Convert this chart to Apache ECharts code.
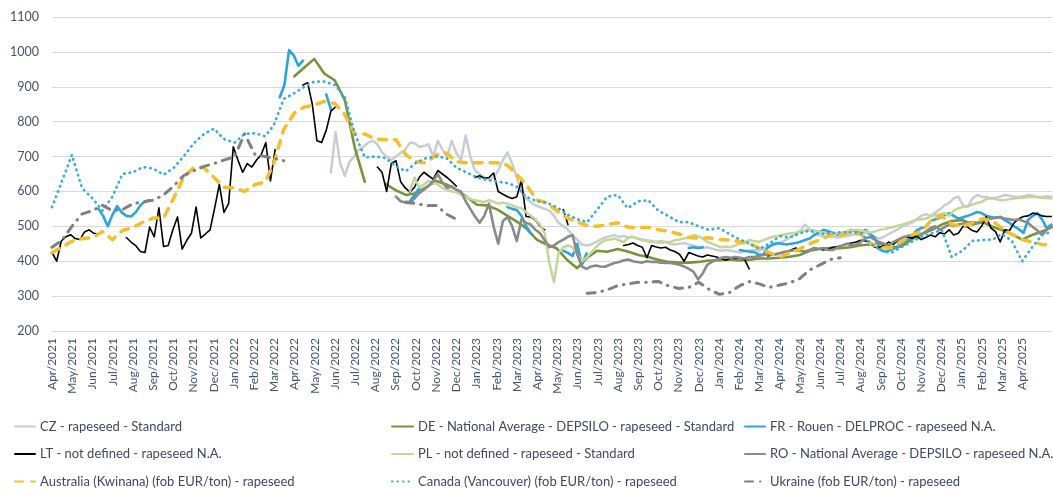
<!DOCTYPE html>
<html>
<head>
<meta charset="utf-8">
<title>Rapeseed prices</title>
<script src="https://cdn.jsdelivr.net/npm/echarts@6/dist/echarts.min.js"></script>
<style>
  html, body { margin: 0; padding: 0; background: #ffffff; }
  #chart { width: 1053px; height: 494px; }
</style>
</head>
<body>
<div id="chart"></div>
<script>
// ---- axis labels -------------------------------------------------------
const monthLabels = [
  'Apr/2021','May/2021','Jun/2021','Jul/2021','Aug/2021','Sep/2021','Oct/2021','Nov/2021','Dec/2021',
  'Jan/2022','Feb/2022','Mar/2022','Apr/2022','May/2022','Jun/2022','Jul/2022','Aug/2022','Sep/2022',
  'Oct/2022','Nov/2022','Dec/2022','Jan/2023','Feb/2023','Mar/2023','Apr/2023','May/2023','Jun/2023',
  'Jul/2023','Aug/2023','Sep/2023','Oct/2023','Nov/2023','Dec/2023','Jan/2024','Feb/2024','Mar/2024',
  'Apr/2024','May/2024','Jun/2024','Jul/2024','Aug/2024','Sep/2024','Oct/2024','Nov/2024','Dec/2024',
  'Jan/2025','Feb/2025','Mar/2025','Apr/2025'
];
const priceTicks = { min: 200, max: 1100, step: 100 };

const gap = n => Array(n).fill(null);

// ---- weekly EU quotes (EUR/t), week 0 = 1 Apr 2021 ---------------------
const ltFirstWeek = 0;
const ltValues = [
  425, 400, 458, 470, 476, 465, 462, 484, 490, 480,
  478, ...gap(5), 468, 455, 445, 428,
  425, 498, 470, 553, 442, 445, 490, 527, 435, 460,
  480, 555, 467, 478, 490, 553, 620, 540, 565, 728,
  690, 655, 680, 670, 690, 705, 740, 630, 720, null,
  ...gap(4), 905, 912, 850, 745, 740, 775,
  830, 842, ...gap(8),
  670, 655, 600, 680, 688, 628, 610, 598, 612, 640,
  655, 645, 635, 660, 650, 640, 628, 615, null, null,
  null, 640, 645, 638, 640, 653, 600, 592, 585, 580,
  585, 632, 528, 527, 518, 500, 490, null, null, null,
  548, 505, ...gap(11),
  445, 448, 452, 445, 440, 410, 445,
  441, 438, 440, 432, 428, 420, 400, 425, 420, 415,
  412, 418, 415, 412, 408, 403, 410, 408, 410, 405,
  378, null, null, null, 415, 418, 422, 424, 427, 432,
  438, 432, 427, 433, 438, 435, 432, 435, 440, 442,
  445, 450, 452, 455, 460, 458, 455, 440, 440, 445,
  455, 448, 460, 468, 470, 466, 472, 462, 468, 475,
  470, 482, 478, 490, 475, 480, 500, 498, 488, 484,
  500, 528, 495, 485, 455, 490, 488, 510, 522, 528,
  530, 538, 535, 530, 528, 528
];

const frFirstWeek = 0;
const frValues = [
  ...gap(10),
  550, 530, 500, 533, 558, 540, 530, 528, 540, 560,
  572, 575, ...gap(8),
  ...gap(10),
  ...gap(9), 870,
  905, 1005, 990, 960, 975, null, null, null, null, 878,
  835, ...gap(9),
  ...gap(7), 572, 590, 610,
  ...gap(10),
  ...gap(8), 555, 550,
  547, 530, 500, 480, ...gap(6),
  430, 424, 415, 450, 390, 422, ...gap(4),
  ...gap(10),
  ...gap(7), 438, 440, 438,
  440, ...gap(7), 432, 430,
  428, 426, 420, 418, 440, 448, 452, 450, 448, 450,
  452, 456, 461, 465, 475, 482, 490, 486, 481, 476,
  480, 484, 490, 484, 481, 490, 478, 467, 435, 428,
  430, 436, 441, 452, 462, 470, 488, 495, 498, 515,
  520, 524, 532, 538, 530, 522, 526, 530, 535, 541,
  538, 530, 527, 524, 527, 518, 510, 500, 492, 481,
  519, 530, 538, 520, 495, 505
];

const czFirstWeek = 60;
const czValues = [
  655, 770, 680, 645, 685, 700, 720, 728, 740, 745,
  735, 712, 700, 690, 700, 710, 720, 740, 738, 728,
  730, 735, 700, 745, 720, 700, 745, 710, 690, 760,
  700, 660, 650, 640, 635, 640, 660, 690, 712, 680,
  640, 600, 580, 570, 560, 555, 550, 545, 530, 510,
  500, 490, 475, 462, 448, 445, 448, 455, 462, 468,
  472, 475, 470, 472, 468, 470, 465, 462, 460, 458,
  455, 452, 455, 450, 448, 450, 452, 448, 445, 440,
  438, 440, 436, 432, 430, 432, 430, 428, 425, 428,
  430, 432, 430, 435, 440, 445, 450, 455, 462, 470,
  478, 488, 505, 492, 480, 475, 470, 472, 470, 468,
  470, 472, 475, 478, 480, 482, 478, 470, 465, 470,
  478, 485, 492, 500, 505, 510, 520, 530, 535, 530,
  540, 548, 560, 567, 580, 585, 560, 555, 580, 590,
  585, 584, 580, 582, 585, 590, 588, 585, 584, 586,
  590, 588, 585, 584, 586, 585
];

const plFirstWeek = 77;
const plValues = [
  600, 640, 612,
  620, 630, 625, 620, 610, 605, 600, 598, 590, 585,
  578, 575, 572, 570, 575, 570, 565, 568, 565, 560,
  555, 552, 540, 530, 520, 505, 480, 395, 340, 425,
  440, 445, 440, 420, 400, 410, 425, 440, 452, 460,
  462, 465, 460, 455, 468, 470, 465, 460, 458, 455,
  455, 458, 455, 455, 460, 462, 465, 468, 475, 472,
  465, 455, 450, 445, 440, 442, 440, 445, 450, 455,
  460, 458, 455, 460, 465, 470, 472, 475, 478, 480,
  482, 485, 488, 490, 488, 485, 482, 480, 478, 480,
  482, 485, 488, 490, 488, 485, 482, 485, 490, 492,
  495, 498, 502, 505, 510, 515, 518, 520, 522, 528,
  532, 535, 538, 530, 545, 552, 555, 558, 562, 567,
  570, 578, 581, 578, 575, 575, 578, 580, 582, 582,
  584, 584, 583, 582, 581, 580
];

const roFirstWeek = 74;
const roValues = [
  585, 572, 568, 566, 580, 595,
  605, 615, 630, 650, 625, 610, 615, 605, 600, 572,
  550, 528, 510, 530, 565, 500, 450, 515, 527, 500,
  458, 520, 510, 505, 490, 480, 460, 440, 445, 455,
  462, 470, 475, 420, 385, 378, 385, 388, 385, 384,
  390, 395, 398, 403, 405, 400, 398, 396, 400, 398,
  398, 396, 395, 395, 393, 390, 385, 378, 370, 348,
  365, 390, 398, 405, 410, 412, 410, 412, 410, 408,
  412, 412, 415, 418, 420, 418, 420, 425, 428, 430,
  432, 430, 428, 432, 438, 435, 438, 432, 432, 440,
  445, 450, 445, 448, 455, 465, 470, 462, 455, 450,
  445, 455, 462, 468, 472, 475, 478, 475, 485, 495,
  500, 490, 498, 505, 500, 505, 508, 510, 512, 510,
  515, 520, 522, 525, 527, 522, 520, 518, 520, 515,
  510, 498, 488, 475, 490, 500
];

// ---- twice-monthly quotes (1st and 16th), from 1 Apr 2021 --------------
const deValues = [
  ...gap(24),
  930, 955, 980, 938, 918, 862, 725, 628,
  null,
  622, 603, 590, 595, 612, 630, 620, 605, 585, 562,
  560, 548, 530, 515, 495, 462, 448, 437, 405, 380,
  410, 430, 427, 435, 428, 418, 412, 404, 398, 396,
  396, 398, 402, 403, 405, 402, 404, 408, 408, 410,
  413, 418, 430, 436, 438, 437, 440, 446, 448, 450,
  440, 442, 462, 478, 490, 505, 515, 518, 505, 512,
  498, 490, 478, 462, 475, 485, 498
];

const australiaValues = [
  425, 440, 457, 465, 467, 485, 462, 488, 497, 512,
  524, 524, 580, 640, 670, 668, 640, 612, 610, 600,
  620, 627, 680, 778, 825, 842, 848, 858, 852, 820,
  765, 765, 750, 748, 748, 705, 685, 682, 705, 710,
  685, 682, 682, 682, 682, 675, 650, 620, 576, 567,
  545, 525, 512, 502, 500, 505, 510, 498, 496, 497,
  490, 486, 478, 468, 466, 467, 462, 461, 455, 450,
  438, 425, 412, 424, 435, 450, 462, 475, 475, 480,
  478, 450, 440, 438, 455, 475, 485, 520, 530, 505,
  500, 510, 522, 515, 495, 478, 462, 455, 448, 445
];

const canadaValues = [
  555, 630, 705, 610, 580, 545, 585, 650, 655, 670,
  665, 648, 667, 700, 739, 765, 780, 750, 740, 765,
  767, 758, 790, 865, 882, 900, 915, 915, 905, 870,
  765, 698, 700, 696, 672, 658, 682, 695, 700, 696,
  668, 655, 640, 633, 628, 624, 615, 585, 572, 568,
  555, 535, 520, 512, 548, 585, 590, 552, 572, 575,
  545, 530, 512, 512, 500, 490, 495, 478, 462, 450,
  435, 450, 472, 468, 480, 488, 478, 480, 483, 483,
  481, 450, 430, 424, 440, 455, 470, 480, 490, 412,
  430, 458, 461, 462, 478, 460, 400, 440, 475, 485
];

const ukraineValues = [
  440, 460, 500, 535, 545, 560, 545, 548, 565, 570,
  575, 590, 615, 645, 660, 672, 680, 690, 700, 765,
  705, 700, 695, 688, ...gap(6),
  ...gap(5), 570, 565, 560, 560, 535,
  520, ...gap(9),
  ...gap(3), 308, 310, 318, 330, 335, 340, 340,
  342, 330, 322, 325, 340, 320, 305, 310, 330, 342,
  335, 325, 332, 338, 350, 375, 390, 405, 410, null,
  ...gap(20)
];

// ---- date handling: x is measured in days since 1 Apr 2021 -------------
const DAY_MS = 86400000;
const ORIGIN = Date.UTC(2021, 3, 1);
const AVG_MONTH = 30.4375;
const X_MAX = 1506;
const dayOf = (y, m, d) => (Date.UTC(y, m - 1, d) - ORIGIN) / DAY_MS;

const weekly = (firstWeek, values) => values.map((v, i) => [7 * (firstWeek + i), v]);
const semiMonthly = values => values.map((v, i) => {
  const m = 3 + Math.floor(i / 2);
  return [dayOf(2021 + Math.floor(m / 12), (m % 12) + 1, i % 2 ? 16 : 1), v];
});

function line(name, data, color, width, type) {
  return {
    name, type: 'line', data,
    symbol: 'none', showSymbol: false, connectNulls: false,
    animation: false, emphasis: { disabled: true },
    lineStyle: { color, width, type: type || 'solid', cap: 'round', join: 'round' },
    itemStyle: { color }
  };
}

const names = {
  cz: 'CZ - rapeseed - Standard',
  de: 'DE - National Average - DEPSILO - rapeseed - Standard',
  fr: 'FR - Rouen - DELPROC - rapeseed N.A.',
  lt: 'LT - not defined - rapeseed N.A.',
  pl: 'PL - not defined - rapeseed - Standard',
  ro: 'RO - National Average - DEPSILO - rapeseed N.A.',
  au: 'Australia (Kwinana) (fob EUR/ton) - rapeseed',
  ca: 'Canada (Vancouver) (fob EUR/ton) - rapeseed',
  ua: 'Ukraine (fob EUR/ton) - rapeseed'
};

const series = [
  line(names.cz, weekly(czFirstWeek, czValues), '#c7ccd7', 2.5),
  line(names.de, semiMonthly(deValues), '#77933c', 2.6),
  line(names.fr, weekly(frFirstWeek, frValues), '#2ba6dc', 2.6),
  line(names.lt, weekly(ltFirstWeek, ltValues), '#000000', 1.6),
  line(names.pl, weekly(plFirstWeek, plValues), '#c3d69b', 2.5),
  line(names.ro, weekly(roFirstWeek, roValues), '#8a8a8a', 2.6),
  line(names.au, semiMonthly(australiaValues), '#f5bf2a', 3.5, [8, 8]),
  line(names.ca, semiMonthly(canadaValues), '#3aaddd', 2.7, [0.5, 5]),
  line(names.ua, semiMonthly(ukraineValues), '#7f7f7f', 3, [8, 7, 0.5, 7])
];

const legendText = { fontFamily: 'Lato', fontSize: 13, color: '#3f4a5c' };
const legendBase = {
  orient: 'vertical', top: 415, itemGap: 14.5, itemHeight: 14,
  textStyle: legendText, selectedMode: false,
  itemStyle: { opacity: 0 }
};

const chart = echarts.init(document.getElementById('chart'), null, { renderer: 'canvas' });
chart.setOption({
  backgroundColor: '#ffffff',
  animation: false,
  grid: { left: 52, right: 1, top: 17, bottom: 163, containLabel: false },
  xAxis: {
    type: 'value', min: 0, max: X_MAX, interval: AVG_MONTH,
    axisLine: { show: true, lineStyle: { color: '#d9d9d9' } },
    axisTick: { show: false },
    splitLine: { show: false },
    axisLabel: {
      rotate: 90, margin: 7, fontFamily: 'Lato', fontSize: 12, color: '#44546a',
      formatter: v => monthLabels[Math.round(v / AVG_MONTH)] || ''
    }
  },
  yAxis: {
    type: 'value', min: priceTicks.min, max: priceTicks.max, interval: priceTicks.step,
    axisLine: { show: false }, axisTick: { show: false },
    splitLine: { lineStyle: { color: '#d9d9d9', width: 1 } },
    axisLabel: {
      margin: 13, fontFamily: 'Lato', fontSize: 12.5, color: '#44546a',
      formatter: v => String(v)
    }
  },
  legend: [
    Object.assign({}, legendBase, { left: 9, itemWidth: 20, data: [names.cz, names.lt, names.au] }),
    Object.assign({}, legendBase, { left: 386, itemWidth: 21, data: [names.de, names.pl, names.ca] }),
    Object.assign({}, legendBase, { left: 739, itemWidth: 20, data: [names.fr, names.ro, names.ua] })
  ],
  series
});
</script>
</body>
</html>
